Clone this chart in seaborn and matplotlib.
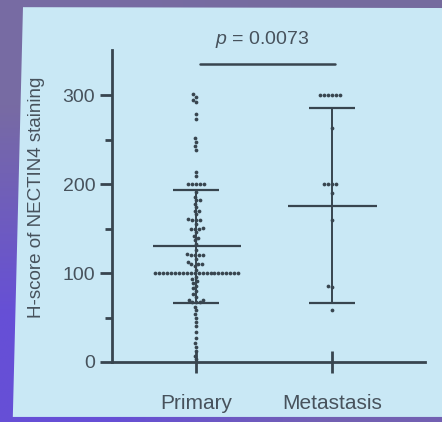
import numpy as np
import pandas as pd
import matplotlib
matplotlib.use("Agg")
import matplotlib.pyplot as plt
from matplotlib.patches import Polygon
import seaborn as sns

# ---------------- data ----------------
groups = ["Primary", "Metastasis"]

primary_scores = [301, 298, 295, 292, 279, 273, 252, 248, 243, 239, 214, 209,
                  200, 200, 200, 200, 200,
                  191, 186, 182, 182, 178, 174, 170, 170, 166, 161, 160, 160, 160,
                  155, 151, 150, 150, 150, 146, 142, 140, 137, 133,
                  126, 121, 120, 120, 120, 120, 116, 112, 110, 110, 110, 108, 104,
                  100, 100, 100, 100, 100, 100, 100, 100, 100, 100, 100,
                  100, 100, 100, 100, 100, 100, 100, 100, 100, 100, 100,
                  96, 93, 91, 89, 86, 83, 80, 76, 73, 70, 70, 68, 68, 68,
                  62, 58, 54, 50, 45, 40, 34, 27, 21, 17, 12, 7, 3]

metastasis_scores = [300, 300, 300, 300, 300, 300, 263, 200, 200, 200, 200,
                     190, 160, 86, 84, 58]

group_means = [130, 176]
group_sds = [64, 110]

p_label = "0.0073"
y_ticks = [0, 100, 200, 300]
y_minor_ticks = [50, 150, 250]
y_label = "H-score of NECTIN4 staining"

# ---------------- figure ----------------
sns.set_style("white")
plt.rcParams["font.family"] = ["Liberation Sans", "DejaVu Sans"]
plt.rcParams["mathtext.fontset"] = "custom"
plt.rcParams["mathtext.it"] = "Liberation Sans:italic"
plt.rcParams["mathtext.rm"] = "Liberation Sans"

ink = "#38454f"
txt = "#47525c"

fig = plt.figure(figsize=(4.42, 4.22), dpi=100)

# photographed slide background (purple frame + light-blue panel)
bg = fig.add_axes([0, 0, 1, 1], zorder=-10)
grad = np.array([[[0.47, 0.42, 0.64], [0.46, 0.42, 0.62]],
                 [[0.40, 0.31, 0.84], [0.45, 0.38, 0.70]]])
bg.imshow(grad, extent=[0, 1, 0, 1], aspect="auto", interpolation="bilinear",
          origin="upper")
bg.add_patch(Polygon([[0.052, 0.983], [1.0, 0.981], [1.0, 0.012], [0.029, 0.012]],
                     closed=True, facecolor="#c9e8f5", edgecolor="none"))
bg.set_xlim(0, 1)
bg.set_ylim(0, 1)
bg.axis("off")

ax = fig.add_axes([0.2534, 0.1422, 0.708, 0.7393])
ax.set_facecolor("none")

df = pd.DataFrame({
    "group": ["Primary"] * len(primary_scores) + ["Metastasis"] * len(metastasis_scores),
    "score": primary_scores + metastasis_scores,
})

sns.swarmplot(data=df, x="group", y="score", order=groups, color=ink,
              size=2.7, linewidth=0, ax=ax, zorder=3, warn_thresh=1.0)

# mean +/- SD
for i, (m, s) in enumerate(zip(group_means, group_sds)):
    ax.hlines(m, i - 0.32, i + 0.33, color=ink, lw=1.6, zorder=4)
    ax.errorbar(i, m, yerr=s, fmt="none", ecolor=ink, elinewidth=1.4,
                capsize=16.5, capthick=1.6, zorder=4)

# significance bar
ax.plot([0.03, 1.02], [335, 335], color=ink, lw=1.8, clip_on=False)
ax.text(0.49, 363, r"$p$ = " + p_label, ha="center", va="center",
        fontsize=14, color=txt, clip_on=False)

ax.set_xlim(-0.618, 1.684)
ax.set_ylim(0, 351)
ax.set_yticks(y_ticks)
ax.set_yticks(y_minor_ticks, minor=True)
ax.set_yticklabels([str(t) for t in y_ticks])
ax.set_xlabel("")
ax.set_ylabel(y_label, fontsize=13.5, color=txt)
ax.yaxis.set_label_coords(-0.215, 0.527)

sns.despine(ax=ax)
for side in ["left", "bottom"]:
    ax.spines[side].set_color(ink)
    ax.spines[side].set_linewidth(2.0)

ax.tick_params(axis="y", which="major", direction="out", length=9, width=2,
               color=ink, labelsize=14, labelcolor=txt, pad=3, left=True)
ax.tick_params(axis="y", which="minor", direction="out", length=5, width=2,
               color=ink, left=True)
ax.tick_params(axis="x", which="major", direction="inout", length=16, width=2,
               color=ink, labelsize=15, labelcolor=txt, pad=15, bottom=True)

fig.savefig("out.png", dpi=100)
